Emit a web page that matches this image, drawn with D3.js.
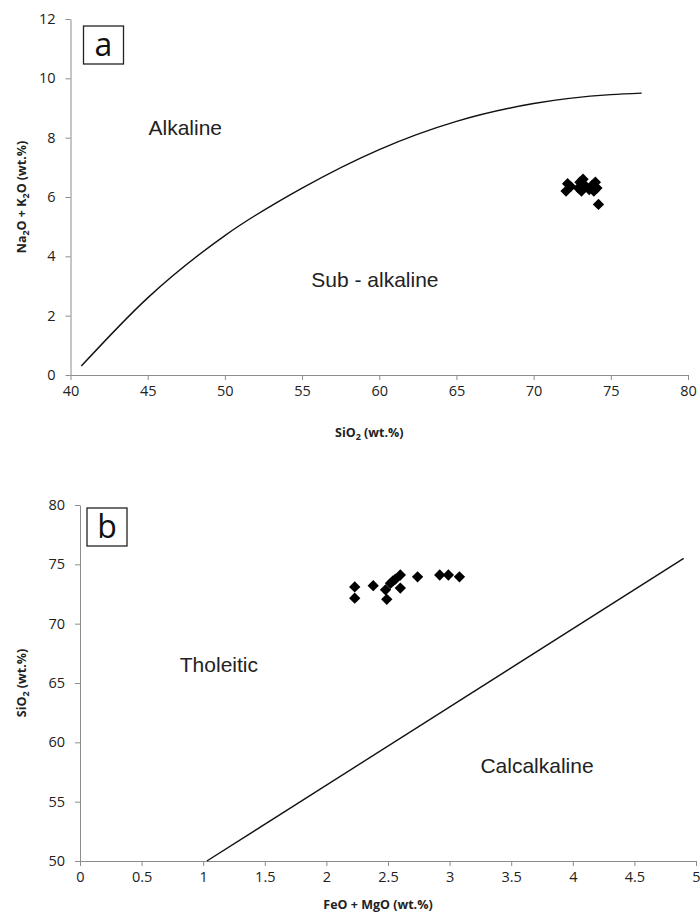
<!DOCTYPE html>
<html>
<head>
<meta charset="utf-8">
<script src="https://cdn.jsdelivr.net/npm/d3@7"></script>
<style>
  body { margin: 0; background: #fff; }
  .axis path, .axis line { stroke: #8c8c8c; }
  .axis text { font-family: "Open Sans", sans-serif; font-size: 14.5px; fill: #222; }
  .title { font-family: "Open Sans", sans-serif; font-size: 12.5px; font-weight: bold; fill: #222; }
  .field { font-family: "Liberation Sans", Arial, sans-serif; font-size: 21px; fill: #222; }
</style>
</head>
<body>
<div id="chart"></div>
<script>
// panel a: total alkali vs silica
const siO2A = [72.1, 72.2, 72.4, 72.9, 73.0, 73.1, 73.2, 73.4, 73.6, 73.8, 73.9, 74.0, 74.1, 74.2];
const alkA  = [6.2, 6.45, 6.35, 6.3, 6.5, 6.2, 6.6, 6.35, 6.25, 6.4, 6.2, 6.5, 6.3, 5.75];
// alkaline / sub-alkaline boundary
const boundaryA = [[40.7, 0.3], [45, 2.6], [50, 4.7], [55, 6.3], [60, 7.6], [65, 8.55], [70, 9.15], [75, 9.45], [77, 9.5]];
const xTicksA = [40, 45, 50, 55, 60, 65, 70, 75, 80];
const yTicksA = [0, 2, 4, 6, 8, 10, 12];

// panel b: SiO2 vs FeO + MgO
const femB  = [2.23, 2.23, 2.38, 2.48, 2.49, 2.52, 2.54, 2.56, 2.60, 2.60, 2.74, 2.92, 2.99, 3.08];
const siO2B = [73.1, 72.15, 73.2, 72.85, 72.05, 73.4, 73.6, 73.75, 74.1, 73.0, 73.95, 74.1, 74.1, 73.95];
const boundaryB = [[1.03, 50], [4.9, 75.5]];
const xTicksB = [0, 0.5, 1, 1.5, 2, 2.5, 3, 3.5, 4, 4.5, 5];
const yTicksB = [50, 55, 60, 65, 70, 75, 80];

const svg = d3.select("#chart").append("svg")
    .attr("width", 700)
    .attr("height", 920);

const diamond = d3.symbol(d3.symbolSquare, 64);

function panel(cfg) {
    const x = d3.scaleLinear().domain(cfg.xDomain).range(cfg.xRange);
    const y = d3.scaleLinear().domain(cfg.yDomain).range(cfg.yRange);

    // axes
    svg.append("g")
        .attr("class", "axis")
        .attr("transform", `translate(0, ${cfg.yRange[0]})`)
        .call(d3.axisBottom(x).tickValues(cfg.xTicks).tickSizeInner(5).tickSizeOuter(0).tickPadding(6)
            .tickFormat(d3.format("")));
    svg.append("g")
        .attr("class", "axis")
        .attr("transform", `translate(${cfg.xRange[0]}, 0)`)
        .call(d3.axisLeft(y).tickValues(cfg.yTicks).tickSizeInner(5).tickSizeOuter(0).tickPadding(10));

    // boundary line
    svg.append("path")
        .datum(cfg.boundary)
        .attr("fill", "none")
        .attr("stroke", "#111")
        .attr("stroke-width", 1.4)
        .attr("d", d3.line().x(d => x(d[0])).y(d => y(d[1])).curve(d3.curveMonotoneX));

    // samples
    svg.append("g")
        .selectAll("path")
        .data(cfg.xs.map((v, i) => [v, cfg.ys[i]]))
        .join("path")
        .attr("d", diamond)
        .attr("fill", "#000")
        .attr("transform", d => `translate(${x(d[0])}, ${y(d[1])}) rotate(45)`);

    // field names
    cfg.fields.forEach(f => {
        svg.append("text")
            .attr("class", "field")
            .attr("x", x(f.x))
            .attr("y", y(f.y))
            .text(f.text);
    });

    // panel letter
    const bx = cfg.xRange[0] + cfg.box[0], by = cfg.yRange[1] + cfg.box[1];
    svg.append("rect")
        .attr("x", bx).attr("y", by)
        .attr("width", 40).attr("height", 38)
        .attr("fill", "#fff")
        .attr("stroke", "#222")
        .attr("stroke-width", 1.3);
    svg.append("text")
        .attr("x", bx + 20).attr("y", by + 30)
        .attr("text-anchor", "middle")
        .attr("font-family", "Open Sans, sans-serif")
        .attr("font-size", "32px")
        .attr("fill", "#111")
        .text(cfg.letter);

    // axis titles
    const xt = svg.append("text")
        .attr("class", "title")
        .attr("x", (cfg.xRange[0] + cfg.xRange[1]) / 2 - 10)
        .attr("y", cfg.yRange[0] + cfg.titleGap)
        .attr("text-anchor", "middle");
    cfg.xTitle(xt);

    const yt = svg.append("text")
        .attr("class", "title")
        .attr("transform", `translate(26, ${(cfg.yRange[0] + cfg.yRange[1]) / 2}) rotate(-90)`)
        .attr("text-anchor", "middle");
    cfg.yTitle(yt);
}

function sub(t, s) {
    t.append("tspan").attr("font-size", "9px").attr("dy", 3).text(s);
    return t;
}

panel({
    xDomain: [40, 80], xRange: [70.5, 688],
    yDomain: [0, 12], yRange: [375, 19],
    xTicks: xTicksA, yTicks: yTicksA,
    boundary: boundaryA, xs: siO2A, ys: alkA,
    fields: [{ x: 45.05, y: 8.1, text: "Alkaline" }, { x: 55.6, y: 2.95, text: "Sub - alkaline" }],
    box: [13, 7], letter: "a", titleGap: 62,
    xTitle: t => { t.append("tspan").text("SiO"); sub(t, "2"); t.append("tspan").attr("dy", -3).text(" (wt.%)"); },
    yTitle: t => {
        t.append("tspan").text("Na"); sub(t, "2");
        t.append("tspan").attr("dy", -3).text("O + K"); sub(t, "2");
        t.append("tspan").attr("dy", -3).text("O (wt.%)");
    }
});

panel({
    xDomain: [0, 5], xRange: [80, 696],
    yDomain: [50, 80], yRange: [861, 505],
    xTicks: xTicksB, yTicks: yTicksB,
    boundary: boundaryB, xs: femB, ys: siO2B,
    fields: [{ x: 0.81, y: 65.9, text: "Tholeitic" }, { x: 3.25, y: 57.4, text: "Calcalkaline" }],
    box: [7, 3], letter: "b", titleGap: 48,
    xTitle: t => t.text("FeO + MgO (wt.%)"),
    yTitle: t => { t.append("tspan").text("SiO"); sub(t, "2"); t.append("tspan").attr("dy", -3).text(" (wt.%)"); }
});
</script>
</body>
</html>
